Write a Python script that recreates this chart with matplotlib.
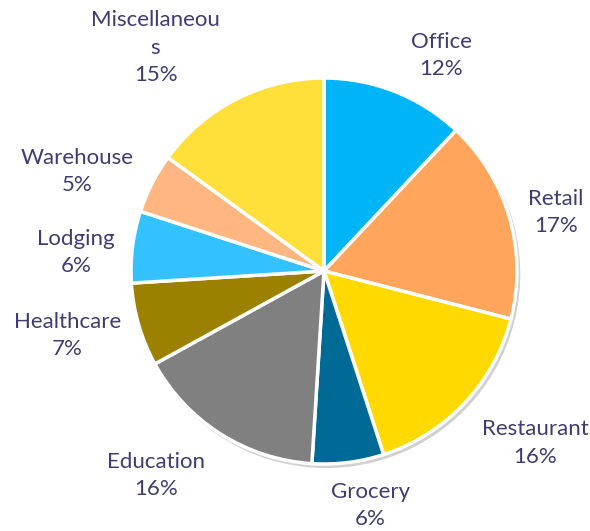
import numpy as np
import matplotlib.pyplot as plt
from matplotlib.patches import Circle

# Share of floor area by building type (%)
categories = ["Office", "Retail", "Restaurant", "Grocery", "Education",
              "Healthcare", "Lodging", "Warehouse", "Miscellaneou\ns"]
shares = [12, 17, 16, 6, 16, 7, 6, 5, 15]
colors = ["#00B4F8", "#FFA65C", "#FFD900", "#006A96", "#808080",
          "#9C8100", "#33C2FF", "#FFB681", "#FFDF3A"]

# label placement: (distance in radii, angle nudge in degrees)
label_pos = [(1.27, -7), (1.24, -2), (1.41, 4), (1.24, 4), (1.37, -7),
             (1.37, -2), (1.29, 3), (1.38, 5), (1.45, 10)]

text_color = "#403C72"
plt.rcParams['font.family'] = ['Lato', 'DejaVu Sans']

fig = plt.figure(figsize=(5.9, 5.31), dpi=100)
ax = fig.add_axes([0, 0, 1, 1])

r_px = 193
cx, cy = 324, 271

# soft drop shadow behind the pie
ax.add_patch(Circle((0.012, -0.016), 1.005, color="#000000", alpha=0.18, lw=0, zorder=0))

wedges, _ = ax.pie(shares, colors=colors, startangle=90, counterclock=False,
                   radius=1, wedgeprops=dict(edgecolor="white", linewidth=2.5))

for w, name, val, (d, da) in zip(wedges, categories, shares, label_pos):
    ang = np.deg2rad((w.theta1 + w.theta2) / 2 + da)
    ax.text(d * np.cos(ang), d * np.sin(ang), f"{name}\n{val}%",
            ha="center", va="center", color=text_color, fontsize=16,
            linespacing=1.45)

ax.set_xlim(-cx / r_px, (590 - cx) / r_px)
ax.set_ylim(-(531 - cy) / r_px, cy / r_px)
ax.set_aspect("auto")
ax.axis("off")

fig.savefig("out.png", dpi=100)
